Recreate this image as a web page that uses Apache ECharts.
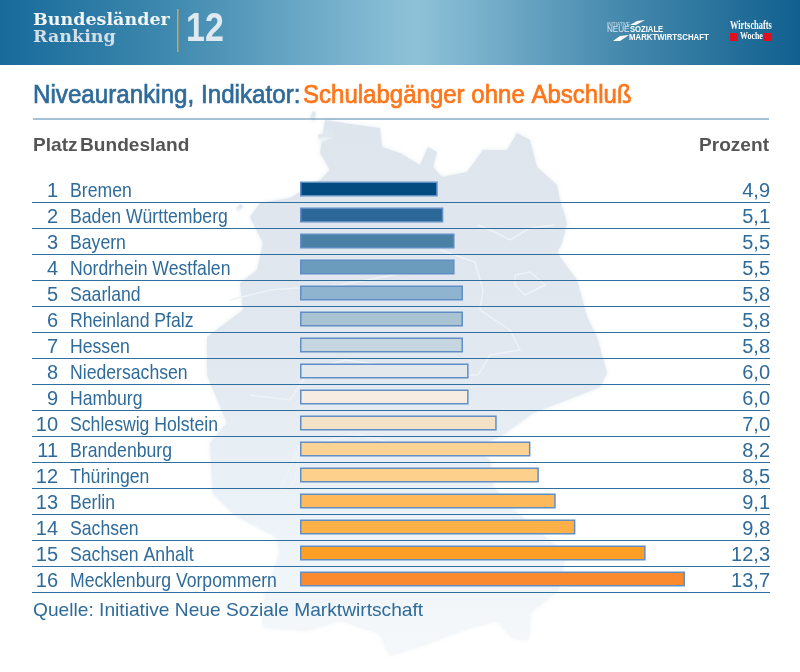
<!DOCTYPE html>
<html><head><meta charset="utf-8">
<style>html,body{margin:0;padding:0;background:#fff}#c{width:800px;height:672px}</style>
<script src="https://cdn.jsdelivr.net/npm/echarts@6/dist/echarts.min.js"></script>
</head><body><div id="c"></div>
<script>
const ranks = [1,2,3,4,5,6,7,8,9,10,11,12,13,14,15,16];
const states = ["Bremen","Baden Württemberg","Bayern","Nordrhein Westfalen","Saarland","Rheinland Pfalz","Hessen","Niedersachsen","Hamburg","Schleswig Holstein","Brandenburg","Thüringen","Berlin","Sachsen","Sachsen Anhalt","Mecklenburg Vorpommern"];
const percent = [4.9,5.1,5.5,5.5,5.8,5.8,5.8,6.0,6.0,7.0,8.2,8.5,9.1,9.8,12.3,13.7];
const barPalette = ["#024a80","#2b6797","#4a80a5","#6c9cbd","#8fb4cf","#a9c3d3","#c6d6e1","#e3e8ed","#f6ece2","#f3e2c8","#fdd295","#fdd08b","#feb95b","#ffb046","#ff9f26","#fb8a2e"];

const BLUE="#2f6b9a", SANS="'Liberation Sans',sans-serif", SLAB="'DejaVu Serif',serif", SERIF="'Liberation Serif',serif";
const outline=[[325,120],[357,125],[380,128],[382,147],[400,153],[420,165],[428,147],[437,152],[433,167],[442,177],[467,172],[483,150],[507,150],[517,133],[530,140],[537,167],[557,185],[560,200],[567,223],[562,243],[557,253],[577,280],[587,317],[597,337],[607,373],[600,387],[567,400],[533,413],[500,437],[473,447],[490,460],[493,487],[517,513],[533,527],[565,555],[558,590],[530,612],[528,640],[513,637],[497,620],[467,628],[427,643],[390,655],[380,633],[340,620],[307,630],[263,627],[265,597],[280,553],[277,537],[235,515],[213,493],[210,443],[227,423],[207,375],[207,337],[243,310],[240,283],[257,270],[263,243],[250,217],[260,203],[290,198],[320,180],[330,170],[320,153]];
const islands=[[[310,118],[313,111],[316,113],[314,122]],[[318,135],[330,132],[332,138],[320,142]],[[236,209],[240,204],[243,206],[239,212]]];
const borders=[[[478,225],[495,232],[510,240],[530,228],[555,225]],[[440,250],[475,262],[483,290],[480,310],[510,330],[520,350],[490,355],[478,375]],[[230,300],[270,290],[340,285],[420,270]],[[250,395],[290,400],[310,370],[345,360],[380,365],[420,375],[478,375]],[[280,490],[300,445],[360,435],[400,445],[473,447]],[[515,275],[530,272],[545,285],[525,295],[515,285],[515,275]],[[300,445],[295,480],[280,500]]];

// text with an alphabetic baseline at y, optionally stretched horizontally
const T=(x,y,text,size,o={})=>({type:'text',z:5,x,y:y-.346*size,scaleX:o.sx||1,style:{x:0,y:0,text,fill:o.fill||'#fff',
  font:`${o.weight||'normal'} ${size}px ${o.family||SANS}`,verticalAlign:'middle',align:o.align||'left',stroke:o.stroke,lineWidth:o.lw||0}});
const graphics=[
 {type:'rect',z:-20,shape:{x:0,y:0,width:800,height:65},style:{fill:new echarts.graphic.LinearGradient(0,0,1,0,[{offset:0,color:'#176a9b'},{offset:.2,color:'#3c87ad'},{offset:.52,color:'#8fc2d9'},{offset:.78,color:'#4488ac'},{offset:1,color:'#11608f'}])}},
 ...[outline,...islands].map(p=>({type:'polygon',z:-15,shape:{points:p},style:{fill:new echarts.graphic.LinearGradient(0,0,0,1,[{offset:0,color:'#dfe5ed'},{offset:.45,color:'#e2e8ef'},{offset:.7,color:'#ebf2f7'},{offset:1,color:'#f5f8fb'}]),shadowBlur:4,shadowColor:'#e6ecf2'}})),
 ...borders.map(b=>({type:'polyline',z:-14,shape:{points:b},style:{stroke:'#eef3f7',lineWidth:1.5,fill:null}})),
 T(33,27,'Bundesländer',17.5,{family:SLAB,weight:'bold',fill:'#f2f5f6'}),
 T(33,44,'Ranking',17.5,{family:SLAB,weight:'bold',fill:'#d3dfe7'}),
 {type:'rect',z:5,shape:{x:177,y:9,width:1.5,height:43},style:{fill:'#d6a24a'}},
 T(186,44,'12',40,{weight:'bold',sx:.85,fill:'#dfe9f0'}),
 T(607,26,'INITIATIVE',4.6,{fill:'#cfe0ea'}),
 T(607,33,'NEUE',9,{sx:.9,fill:'#dbe8ef'}),
 T(630,33,'SOZIALE',8.5,{weight:'bold',sx:.9}),
 T(629,41,'MARKTWIRTSCHAFT',8.3,{weight:'bold',sx:.94}),
 {type:'polygon',z:5,shape:{points:[[630,25],[637,21],[645,20],[636,25]]},style:{fill:'#fff'}},
 {type:'polygon',z:5,shape:{points:[[613,41],[620,36],[629,35],[620,41]]},style:{fill:'#fff'}},
 T(730,30,'Wirtschafts',12,{family:SERIF,weight:'bold',sx:.7}),
 T(740,40,'Woche',11,{family:SERIF,weight:'bold',sx:.72}),
 {type:'rect',z:5,shape:{x:730,y:33,width:8,height:8},style:{fill:'#e0101f'}},
 {type:'rect',z:5,shape:{x:764,y:33,width:8,height:8},style:{fill:'#e0101f'}},
 T(33,105,'Niveauranking, Indikator:',26,{sx:.93,fill:BLUE,stroke:BLUE,lw:.7}),
 T(303,105,'Schulabgänger ohne Abschluß',26,{sx:.924,fill:'#ff7519',stroke:'#ff7519',lw:.7}),
 {type:'rect',z:5,shape:{x:33,y:118.5,width:736,height:1},style:{fill:'#4f86ab'}},
 T(33,152,'Platz',17.7,{weight:'bold',sx:1.08,fill:'#555'}),
 T(80,152,'Bundesland',17.7,{weight:'bold',sx:1.08,fill:'#555'}),
 T(769,152,'Prozent',17.7,{weight:'bold',sx:1.08,fill:'#555',align:'right'}),
 T(33,617,'Quelle: Initiative Neue Soziale Marktwirtschaft',18.4,{sx:1.043,fill:BLUE}),
];

const pxPerUnit=28.1, zeroX=300, gridL=32, gridR=770;
const xFor=px=>(px-zeroX)/pxPerUnit;
const rowText=(api,px,text,size,align,sx)=>{
  const c=api.coord([xFor(px),api.value(0)]);
  return {type:'text',x:c[0],y:c[1]+2.5,scaleX:sx,style:{x:0,y:0,text,fill:BLUE,font:`${size}px ${SANS}`,verticalAlign:'middle',align}};
};
const chart=echarts.init(document.getElementById('c'),null,{renderer:'canvas'});
chart.setOption({
 animation:false,
 graphic:graphics,
 grid:{left:gridL,top:176,width:gridR-gridL,height:416},
 xAxis:{type:'value',min:xFor(gridL),max:xFor(gridR),show:false},
 yAxis:{type:'category',inverse:true,data:states,
   axisLine:{show:false},axisTick:{show:false},axisLabel:{show:false},
   splitLine:{show:true,interval:(i)=>i>0,lineStyle:{color:'#2f6f9f',width:1}}},
 series:[
  {type:'bar',barWidth:15,silent:true,
   data:percent.map((v,i)=>({value:v,itemStyle:{color:barPalette[i],borderColor:'#5f8fc4',borderWidth:1.5}}))},
  {type:'custom',silent:true,clip:false,data:states.map((s,i)=>[i]),encode:{y:0},
   renderItem:(p,api)=>{const i=p.dataIndex;return {type:'group',children:[
     rowText(api,58,String(ranks[i]),20,'right',1),
     rowText(api,70,states[i],21,'left',.84),
     rowText(api,770,percent[i].toFixed(1).replace('.',','),20,'right',1)
   ]};}}
 ]
});
</script></body></html>
